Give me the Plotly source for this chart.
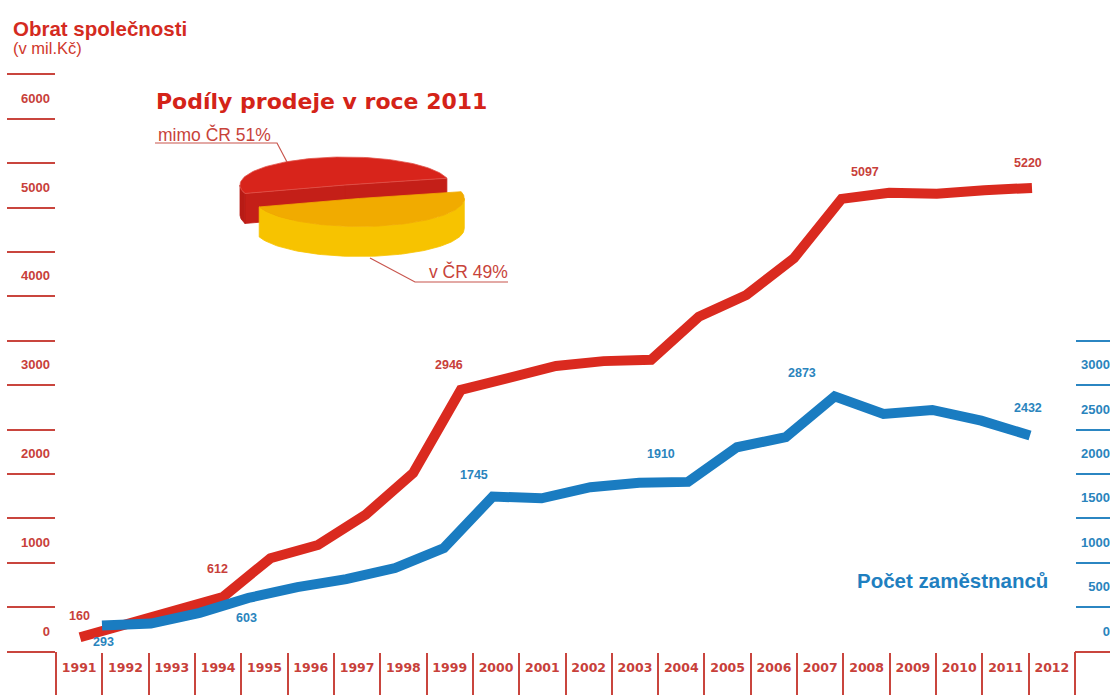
import numpy as np
import plotly.graph_objects as go

# ---- data -------------------------------------------------------------
years_revenue = list(range(1991, 2012))
revenue = [160, 320, 460, 612, 1050, 1200, 1540, 2010, 2946, 3090, 3215,
           3270, 3285, 3770, 4015, 4430, 5097, 5165, 5155, 5195, 5220]

years_staff = list(range(1992, 2012))
staff = [293, 315, 435, 603, 725, 815, 940, 1165, 1745, 1725, 1850,
         1900, 1910, 2300, 2415, 2873, 2675, 2720, 2600, 2432]

year_labels = [str(y) for y in range(1991, 2013)]
revenue_ticks = list(range(0, 6001, 1000))
staff_ticks = list(range(0, 3001, 500))

share_labels = ["mimo ČR 51%", "v ČR 49%"]
share_values = [51, 49]

# years whose values are printed next to the lines
revenue_marked = [1991, 1994, 1999, 2007, 2011]
staff_marked = [1992, 1995, 2000, 2004, 2007, 2011]

# ---- geometry / style -------------------------------------------------
W, H = 1110, 695
ML, MR, MT, MB = 56, 35, 0, 43
PW, PH = W - ML - MR, H - MT - MB

RED = "#da2a1f"
RED_TXT = "#c8403a"
BLUE = "#1a7cc1"
BLUE_TXT = "#2a84bd"

ZERO_PX = 651.5          # pixel row of value 0 (plot-relative)
PX_PER_UNIT = 0.0888
y_range = [-(PH - ZERO_PX) / PX_PER_UNIT, ZERO_PX / PX_PER_UNIT]


def year_range(y0, px0, y1, px1):
    k = (px1 - px0) / (y1 - y0)
    return [y0 - (px0 - ML) / k, y0 + (ML + PW - px0) / k]


def px_x(x):
    return (x - ML) / PW


def px_y(y):
    return (MT + PH - y) / PH


fig = go.Figure()

# ---- 3D pie of sales shares (drawn in pixel space on x4/y4) -----------
RX, RY, DEPTH = 105, 28, 30
CX, CY = 345, 185
START = 14
EXPLODE = 0.5
spans = [360 * v / sum(share_values) for v in share_values]
a0, a1 = START, START + spans[0]
b0, b1 = a1, START + 360


def arc(cx, cy, t0, t1, dz=0, n=90):
    t = np.radians(np.linspace(t0, t1, n))
    return cx + RX * np.cos(t), cy - RY * np.sin(t) + dz


def poly(xs, ys, color, edge=None):
    xs = list(xs) + [xs[0]]
    ys = list(ys) + [ys[0]]
    fig.add_trace(go.Scatter(
        x=xs, y=ys, xaxis="x4", yaxis="y4", mode="lines", fill="toself",
        fillcolor=color, line=dict(color=edge or color, width=0.8),
        hoverinfo="skip", showlegend=False))


def cut_face(cx, cy, ang, color):
    r = np.radians(ang)
    ex, ey = cx + RX * np.cos(r), cy - RY * np.sin(r)
    poly([cx, ex, ex, cx], [cy, ey, ey + DEPTH, cy + DEPTH], color)


def wall(cx, cy, t0, t1, color):
    if t1 <= t0:
        return
    tx, ty = arc(cx, cy, t0, t1)
    bx, by = arc(cx, cy, t1, t0, DEPTH)
    poly(np.concatenate([tx, bx]), np.concatenate([ty, by]), color)


# back slice (mimo ČR)
cut_face(CX, CY, a0, "#c41f18")
cut_face(CX, CY, a1, "#c41f18")
wall(CX, CY, max(a0, 180), min(a1, 360), "#b81b15")
tx, ty = arc(CX, CY, a0, a1)
poly(np.concatenate([[CX], tx]), np.concatenate([[CY], ty]), "#d8241b", "#e2574e")

# front slice (v ČR), pulled out along its bisector
mid = np.radians((b0 + b1) / 2)
YCX = CX + EXPLODE * RX * np.cos(mid)
YCY = CY - EXPLODE * RY * np.sin(mid)
wall(YCX, YCY, max(b0, 180), min(b1, 360), "#f7c300")
tx, ty = arc(YCX, YCY, b0, b1)
poly(np.concatenate([[YCX], tx]), np.concatenate([[YCY], ty]), "#f1ab00")

# ---- lines ------------------------------------------------------------
fig.add_trace(go.Scatter(
    x=years_revenue, y=revenue, xaxis="x", yaxis="y", mode="lines",
    line=dict(color=RED, width=10), hoverinfo="skip", showlegend=False))
fig.add_trace(go.Scatter(
    x=years_staff, y=staff, xaxis="x3", yaxis="y2", mode="lines",
    line=dict(color=BLUE, width=10), hoverinfo="skip", showlegend=False))
# carrier for the year axis
fig.add_trace(go.Scatter(
    x=[1991, 2012], y=[None, None], xaxis="x2", yaxis="y", mode="lines",
    hoverinfo="skip", showlegend=False))

# ---- value labels -----------------------------------------------------
rev_shift = {1991: (-1, 21), 1994: (-5, 28), 1999: (-12, 25),
             2007: (23, 27), 2011: (-4, 25)}
staff_shift = {1992: (1, -17), 1995: (-2, -20), 2000: (-19, 22),
               2004: (-27, 28), 2007: (-33, 23), 2011: (-2, 28)}
annotations = []
for yr in revenue_marked:
    v = revenue[years_revenue.index(yr)]
    dx, dy = rev_shift[yr]
    annotations.append(dict(
        x=yr, y=v, xref="x", yref="y", text=str(v), showarrow=False,
        xshift=dx, yshift=dy,
        font=dict(family="Liberation Sans", size=12.5, color=RED_TXT, weight="bold")))
for yr in staff_marked:
    v = staff[years_staff.index(yr)]
    dx, dy = staff_shift[yr]
    annotations.append(dict(
        x=yr, y=v, xref="x3", yref="y2", text=str(v), showarrow=False,
        xshift=dx, yshift=dy,
        font=dict(family="Liberation Sans", size=12.5, color=BLUE_TXT, weight="bold")))

# ---- titles -----------------------------------------------------------
def text(x, y, s, size, color, bold=False, family="Liberation Sans"):
    annotations.append(dict(
        x=px_x(x), y=px_y(y), xref="paper", yref="paper", text=s,
        showarrow=False, xanchor="left", yanchor="middle",
        font=dict(family=family, size=size, color=color,
                  weight="bold" if bold else "normal")))


text(11, 29, "Obrat společnosti", 20.5, "#d42b1f", bold=True)
text(11, 48, "(v mil.Kč)", 16.5, "#d0382c")
text(154, 101, "Podíly prodeje v roce 2011", 22, "#d42318", bold=True,
     family="DejaVu Sans")
text(156, 134, share_labels[0], 17.5, "#c8433a")
text(427, 271, share_labels[1], 17.5, "#c8433a")
text(855, 580, "Počet zaměstnanců", 20.5, "#1f7fc0", bold=True)

# ---- leader lines and frame -------------------------------------------
LEADER = "#c8554d"
shapes = [
    dict(type="path", xref="x4", yref="y4",
         path="M 155 143 L 277 143 L 287 162",
         line=dict(color=LEADER, width=1.2)),
    dict(type="path", xref="x4", yref="y4",
         path="M 370 258 L 415 282 L 508 282",
         line=dict(color=LEADER, width=1.2)),
    # year strip frame
    dict(type="line", xref="paper", yref="paper", x0=0, x1=0,
         y0=0, y1=px_y(H + 2), line=dict(color="#c9453e", width=2)),
    dict(type="line", xref="paper", yref="paper", x0=1, x1=1,
         y0=0, y1=px_y(H + 2), line=dict(color="#c9453e", width=2)),
    dict(type="line", xref="paper", yref="paper", x0=1, x1=px_x(W + 2),
         y0=px_y(652), y1=px_y(652), line=dict(color="#c9453e", width=2)),
]

tick_font_red = dict(family="Liberation Sans", size=13, color=RED_TXT, weight="bold")
tick_font_blue = dict(family="Liberation Sans", size=13, color=BLUE_TXT, weight="bold")
FS = "\u2007"

fig.update_layout(
    width=W, height=H,
    margin=dict(l=ML, r=MR, t=MT, b=MB, pad=0, autoexpand=False),
    paper_bgcolor="white", plot_bgcolor="white",
    showlegend=False,
    annotations=annotations,
    shapes=shapes,
    xaxis=dict(range=year_range(1991, 80, 2011, 1032), visible=False,
               fixedrange=True, automargin=False),
    xaxis2=dict(overlaying="x", anchor="y", side="bottom",
                range=[1990.5, 2012.5], automargin=False,
                tickmode="array", tickvals=list(range(1991, 2013)),
                ticktext=year_labels, ticks="",
                tickfont=dict(family="DejaVu Sans", size=12.5, color=RED_TXT,
                              weight="bold"),
                ticklabelstandoff=6,
                minor=dict(tickmode="array",
                           tickvals=[y + 0.5 for y in range(1991, 2012)],
                           ticks="outside", ticklen=45, tickwidth=2,
                           tickcolor="#c9453e", showgrid=False),
                showgrid=False, zeroline=False, showline=False),
    xaxis3=dict(overlaying="x", anchor="y2", automargin=False,
                range=year_range(1992, 102, 2011, 1030), visible=False),
    xaxis4=dict(overlaying="x", anchor="y4", range=[ML, ML + PW],
                automargin=False, visible=False),
    yaxis=dict(range=y_range, tickmode="array", automargin=False,
               tickvals=[v + 230 for v in revenue_ticks],
               ticktext=[str(v) for v in revenue_ticks], ticks="",
               tickfont=tick_font_red, ticklabelstandoff=5,
               minor=dict(tickmode="array",
                          tickvals=list(range(0, 6501, 500)),
                          ticks="outside", ticklen=48, tickwidth=2,
                          tickcolor="#c9453e", showgrid=False),
               showgrid=False, zeroline=False, showline=False),
    yaxis2=dict(overlaying="y", side="right", anchor="x3", range=y_range,
                tickmode="array", automargin=False,
                tickvals=[v + 230 for v in staff_ticks],
                ticktext=[FS * (4 - len(str(v))) + str(v) for v in staff_ticks],
                ticks="", tickfont=tick_font_blue, ticklabelstandoff=5,
                minor=dict(tickmode="array",
                           tickvals=list(range(500, 3501, 500)),
                           ticks="outside", ticklen=40, tickwidth=2,
                           tickcolor="#2b86c2", showgrid=False),
                showgrid=False, zeroline=False, showline=False),
    yaxis4=dict(overlaying="y", anchor="x4", range=[MT + PH, MT],
                automargin=False, visible=False),
)

fig.write_html("out.html")
